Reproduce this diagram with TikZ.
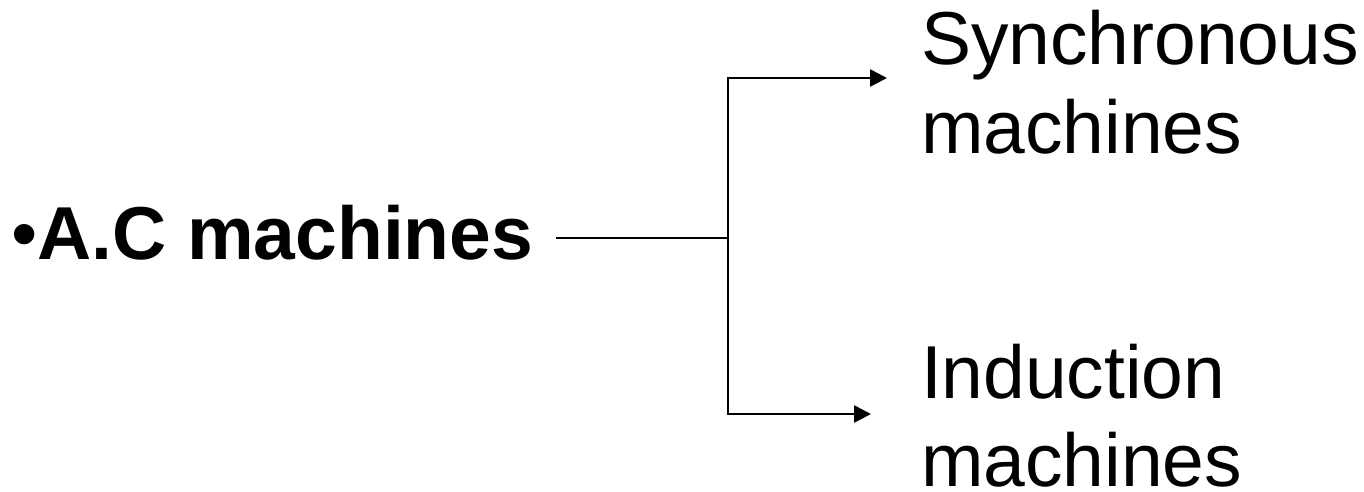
\documentclass[tikz,border=0pt]{standalone}
\usepackage{fontspec}
\setmainfont{Liberation Sans}
\usetikzlibrary{arrows.meta}
\begin{document}
\begin{tikzpicture}[x=0.5pt,y=-0.5pt,
  lbl/.style={inner sep=0pt,outer sep=0pt,anchor=base west,align=left,
    font=\fontsize{37.5pt}{44pt}\selectfont},
  conn/.style={line width=1.3pt,line cap=rect},
  arr/.style={conn,-{Triangle[length=8.5pt,width=8.5pt]}}]
\useasboundingbox (0,0) rectangle (1364,492);
\node[lbl] (ac) at (11,259) {•\textbf{A.C machines}};
\node[lbl] (syn) at (921,153) {Synchronous\\machines};
\node[lbl] (ind) at (921,486) {Induction\\machines};
\coordinate (j) at (728,238);
\coordinate (jt) at (728,78);
\coordinate (jb) at (728,414);
\coordinate (et) at (887,78);
\coordinate (eb) at (871,414);
\draw[conn] ([xshift=12pt]ac.east |- j) -- (j);
\draw[conn] (jt) -- (jb);
\draw[arr] (jt) -- (et);
\draw[arr] (jb) -- (eb);
\end{tikzpicture}
\end{document}
